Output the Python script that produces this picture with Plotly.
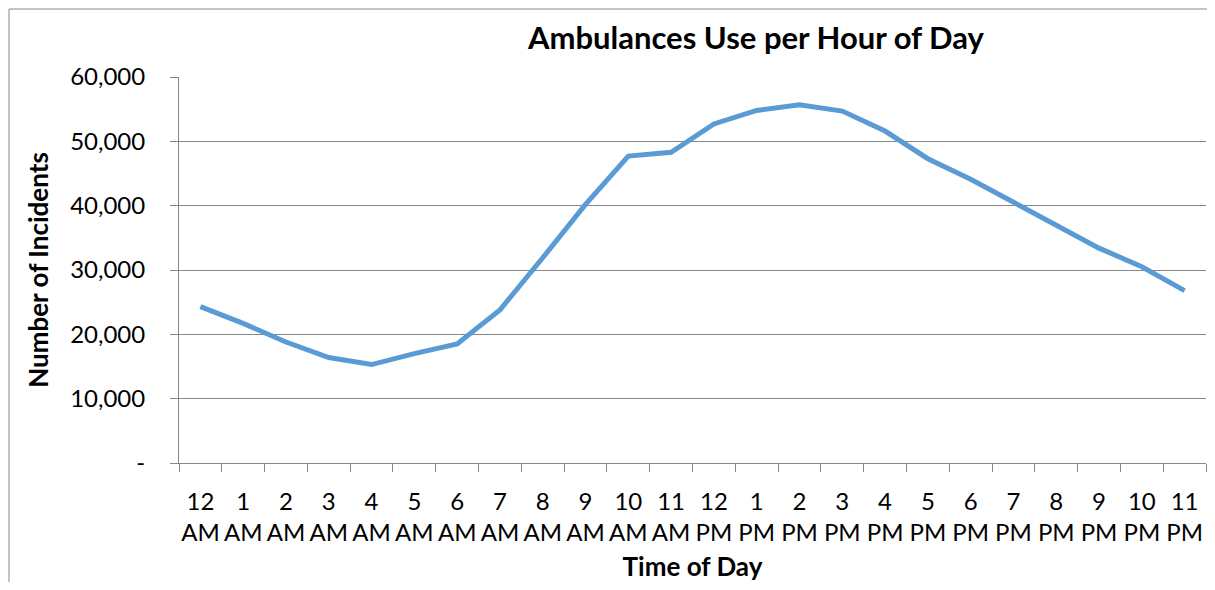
import plotly.graph_objects as go

hours = ["12 AM", "1 AM", "2 AM", "3 AM", "4 AM", "5 AM", "6 AM", "7 AM", "8 AM", "9 AM", "10 AM", "11 AM",
         "12 PM", "1 PM", "2 PM", "3 PM", "4 PM", "5 PM", "6 PM", "7 PM", "8 PM", "9 PM", "10 PM", "11 PM"]
incidents = [24300, 21700, 18800, 16400, 15300, 17000, 18500, 23800, 31900, 40200, 47700, 48300,
             52700, 54800, 55700, 54700, 51600, 47300, 44100, 40500, 36900, 33400, 30500, 26800]

y_ticks = [0, 10000, 20000, 30000, 40000, 50000, 60000]
y_tick_text = ["-", "10,000", "20,000", "30,000", "40,000", "50,000", "60,000"]

GRID = "#868686"
BORDER = "#B0B0B0"
FONT = "Lato, 'Open Sans', sans-serif"

# page body has an 8px margin, so the figure is 16px smaller than the window
W, H = 1199, 574
L, R, T, B = 171, 1, 69, 119
PLOT_W, PLOT_H = W - L - R, H - T - B

x_labels = [h.replace(" ", "<br>") for h in hours]

fig = go.Figure(go.Scatter(
    x=x_labels,
    y=incidents,
    mode="lines",
    line=dict(color="#5B9BD5", width=5),
    hovertemplate="%{x}: %{y:,}<extra></extra>",
))

# chart-area border: only the left and top edges show in the frame
bx0 = (1 - L) / PLOT_W
bx1 = (W - L) / PLOT_W
by0 = -B / PLOT_H
by1 = (PLOT_H + T - 1) / PLOT_H

fig.update_layout(
    width=W,
    height=H,
    paper_bgcolor="white",
    plot_bgcolor="white",
    showlegend=False,
    font=dict(family=FONT, color="black", size=24),
    margin=dict(l=L, r=R, t=T, b=B),
    title=dict(
        text="<b>Ambulances Use per Hour of Day</b>",
        font=dict(size=31, family=FONT),
        x=0.5618, xref="paper", xanchor="center",
        y=1 - 30 / H, yref="container", yanchor="middle",
    ),
    xaxis=dict(
        type="category",
        range=[-0.5, len(hours) - 0.5],
        tickson="boundaries",
        ticks="outside",
        ticklen=8,
        tickcolor=GRID,
        tickangle=0,
        showline=True,
        linecolor=GRID,
        showgrid=False,
        automargin=False,
        ticklabelstandoff=17,
        tickfont=dict(size=24),
        title=dict(text="<b>Time of Day</b>", font=dict(size=26), standoff=13),
    ),
    yaxis=dict(
        range=[0, 60000],
        tickvals=y_ticks,
        ticktext=y_tick_text,
        ticks="outside",
        ticklen=8,
        tickcolor=GRID,
        showline=True,
        linecolor=GRID,
        showgrid=True,
        gridcolor=GRID,
        zeroline=False,
        automargin=False,
        ticklabelstandoff=20,
        tickfont=dict(size=24),
        title=dict(text="<b>Number of Incidents</b>", font=dict(size=26), standoff=14),
    ),
    shapes=[
        dict(type="line", xref="paper", yref="paper", x0=bx0, x1=bx0, y0=by0, y1=by1,
             line=dict(color=BORDER, width=1.5), layer="below"),
        dict(type="line", xref="paper", yref="paper", x0=bx0, x1=bx1, y0=by1, y1=by1,
             line=dict(color=BORDER, width=1.5), layer="below"),
    ],
)

fig.write_html("out.html")
